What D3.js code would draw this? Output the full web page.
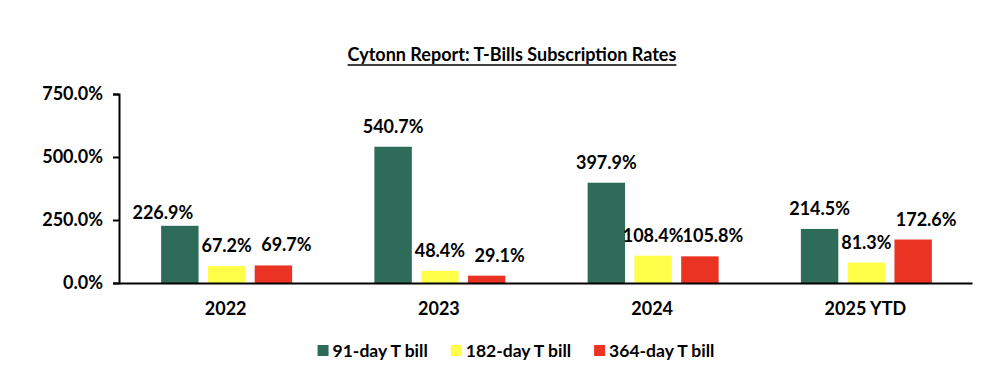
<!DOCTYPE html>
<html><head><meta charset="utf-8">
<script src="https://cdn.jsdelivr.net/npm/d3@7"></script>
<style>body{margin:0;background:#fff;} svg{display:block;font-family:Lato,"Open Sans",sans-serif;font-weight:700;}</style>
</head><body><svg id="c" width="992" height="380"></svg>
<script>
const categories = ["2022", "2023", "2024", "2025 YTD"];
const seriesNames = ["91-day T bill", "182-day T bill", "364-day T bill"];
const seriesColors = ["#2E6B59", "#FFFF4A", "#EB3324"];
const bill91 = [226.9, 540.7, 397.9, 214.5];
const bill182 = [67.2, 48.4, 108.4, 81.3];
const bill364 = [69.7, 29.1, 105.8, 172.6];
const yTicks = [0, 250, 750, 500];
const title = "Cytonn Report: T-Bills Subscription Rates";

const series = [bill91, bill182, bill364];
const svg = d3.select("#c");
const W = 992, H = 380;
const FS = 18;
const m = {left: 119, right: 20, top: 94, bottom: 97};
const x = d3.scaleBand().domain(categories).range([m.left, W - m.right]);
const xs = d3.scaleBand().domain(d3.range(series.length)).range([0, 131]).paddingInner(0.2);
const y = d3.scaleLinear().domain([0, 750]).range([H - m.bottom, m.top]);

// title
const t = svg.append("text").attr("x", 512).attr("y", 61).attr("text-anchor", "middle")
  .attr("font-size", FS).attr("fill", "#000").text(title);
const tw = t.node().getComputedTextLength();
svg.append("line").attr("x1", 512 - tw/2).attr("x2", 512 + tw/2).attr("y1", 65).attr("y2", 65)
  .attr("stroke", "#000").attr("stroke-width", 1.4);

// y axis
const ya = svg.append("g").attr("transform", `translate(${m.left},0)`)
  .call(d3.axisLeft(y).tickValues(yTicks).tickSize(6).tickPadding(10).tickFormat(d => d3.format(".1f")(d) + "%"));
ya.select(".domain").attr("stroke", "#000").attr("stroke-width", 2);
ya.selectAll(".tick line").attr("stroke", "#000").attr("stroke-width", 2);
ya.selectAll(".tick text").attr("font-size", FS).attr("font-family", "Lato").attr("font-weight", 700).attr("fill", "#000");

// bars
categories.forEach((c, ci) => {
  const gx = x(c) + (x.bandwidth() - 131) / 2 + 1;
  series.forEach((s, si) => {
    svg.append("rect").attr("x", gx + xs(si)).attr("width", xs.bandwidth())
      .attr("y", y(s[ci])).attr("height", y(0) - y(s[ci])).attr("fill", seriesColors[si]);
  });
});
// labels
const labelDx = [0, 0, 13];
categories.forEach((c, ci) => {
  const gx = x(c) + (x.bandwidth() - 131) / 2 + 1;
  series.forEach((s, si) => {
    let dx = labelDx[si];
    if (ci === 0 && si === 0) dx = -17;
    const dy = (ci === 0 && si === 0) ? 7 : 14;
    svg.append("text").attr("x", gx + xs(si) + xs.bandwidth()/2 + dx).attr("y", y(s[ci]) - dy)
      .attr("text-anchor", "middle").attr("font-size", FS).attr("fill", "#000")
      .text(d3.format(".1f")(s[ci]) + "%");
  });
});

// x axis
const xa = svg.append("g").attr("transform", `translate(0,${y(0)})`)
  .call(d3.axisBottom(x).tickSize(0).tickPadding(19));
xa.select(".domain").attr("stroke", "#000").attr("stroke-width", 2);
xa.selectAll(".tick text").attr("font-size", FS).attr("font-family", "Lato").attr("font-weight", 700).attr("fill", "#000").attr("dy", "0.71em");

// legend
const lg = svg.append("g");
let lx = 0;
seriesNames.forEach((n, i) => {
  const g = lg.append("g").attr("transform", `translate(${lx},0)`);
  g.append("rect").attr("x", 0).attr("y", -12).attr("width", 11).attr("height", 11).attr("fill", seriesColors[i]);
  const tt = g.append("text").attr("x", 15).attr("y", 0).attr("font-size", 17.5).attr("fill", "#000").text(n);
  lx += 15 + tt.node().getComputedTextLength() + 23;
});
const lw = lx - 23;
lg.attr("transform", `translate(${516 - lw/2},357)`);
</script></body></html>
